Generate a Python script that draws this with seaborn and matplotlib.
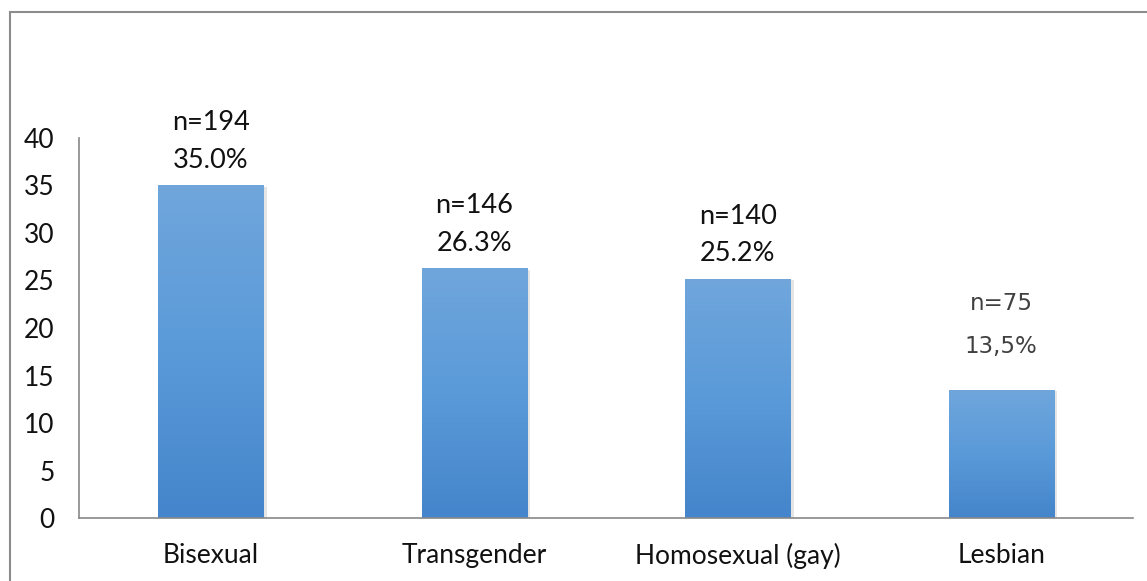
import numpy as np
import pandas as pd
import seaborn as sns
import matplotlib.pyplot as plt
from matplotlib.colors import LinearSegmentedColormap
from matplotlib.patches import Rectangle

# dados
categorias = ["Bisexual", "Transgender", "Homosexual (gay)", "Lesbian"]
percentuais = [35.0, 26.3, 25.2, 13.5]
contagens = ["n=194", "n=146", "n=140", "n=75"]
rotulos_pct = ["35.0%", "26.3%", "25.2%", "13,5%"]

df = pd.DataFrame({"categoria": categorias, "pct": percentuais})

sns.set_style("white")
plt.rcParams["font.family"] = ["Lato", "DejaVu Sans"]

fig = plt.figure(figsize=(11.47, 5.81), dpi=100)
ax = fig.add_axes([0.0689, 0.1084, 0.9189, 0.6541])

sns.barplot(data=df, x="categoria", y="pct", color="#5b9bd5", width=0.40,
            ax=ax, saturation=1)

# gradiente nas barras
cmap = LinearSegmentedColormap.from_list("azul", ["#4485cb", "#5a9ad9", "#70a6dc"])
grad = np.linspace(0, 1, 256).reshape(-1, 1)
for bar in ax.patches:
    x0, y0 = bar.get_x(), bar.get_y()
    w, h = bar.get_width(), bar.get_height()
    bar.set_facecolor("none")
    bar.set_edgecolor("none")
    # sombra leve
    sombra = Rectangle((x0 + 0.012, y0), w, h - 0.15, facecolor="#000000",
                       alpha=0.10, edgecolor="none", zorder=1)
    ax.add_patch(sombra)
    im = ax.imshow(grad, extent=[x0, x0 + w, y0, y0 + h], origin="lower",
                   cmap=cmap, aspect="auto", zorder=2)
    im.set_clip_path(bar)

ax.set_xlim(-0.5, 3.5)
ax.set_ylim(0, 40)
ax.set_yticks(range(0, 41, 5))

# ticks do eixo x nos limites das categorias
ax.set_xticks([-0.5, 0.5, 1.5, 2.5, 3.5])
ax.set_xticklabels([])
ax.set_xticks(range(4), minor=True)
ax.set_xticklabels(categorias, minor=True)
ax.tick_params(axis="x", which="major", direction="out", length=7,
               color="#888888", width=1)
ax.tick_params(axis="x", which="minor", length=0, pad=18, labelsize=19,
               labelcolor="#111111")
ax.tick_params(axis="y", direction="out", length=6.5, color="#888888",
               width=1, pad=11, labelsize=19, labelcolor="#111111")
ax.set_xlabel("")
ax.set_ylabel("")

for s in ["top", "right"]:
    ax.spines[s].set_visible(False)
for s in ["left", "bottom"]:
    ax.spines[s].set_color("#888888")
    ax.spines[s].set_linewidth(1.2)

# rótulos
for i, (v, n, p) in enumerate(zip(percentuais, contagens, rotulos_pct)):
    if i == 3:
        kw = dict(family=["DejaVu Sans"], fontsize=16.5, color="#404040")
        ax.annotate(p, (i, v), xytext=(0, 31), textcoords="offset points",
                    ha="center", va="center", **kw)
        ax.annotate(n, (i, v), xytext=(0, 62), textcoords="offset points",
                    ha="center", va="center", **kw)
    else:
        ax.annotate(p, (i, v), xytext=(0, 18), textcoords="offset points",
                    ha="center", va="center", fontsize=19.5, color="#111111")
        ax.annotate(n, (i, v), xytext=(0, 45), textcoords="offset points",
                    ha="center", va="center", fontsize=19.5, color="#111111")

# moldura do gráfico
fig.add_artist(Rectangle((10 / 1147, -0.05), 1.1, 1 - 12 / 581 + 0.05,
                         transform=fig.transFigure, fill=False,
                         edgecolor="#8c8c8c", linewidth=1.5))

plt.savefig("out.png", dpi=100)
